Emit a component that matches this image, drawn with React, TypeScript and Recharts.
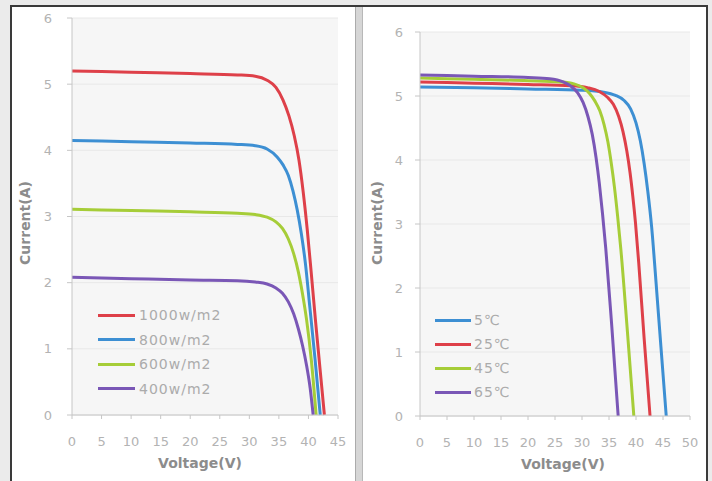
import { CartesianGrid, Label, Line, LineChart, XAxis, YAxis } from "recharts";

// tick labels
const currentTicks = [0, 1, 2, 3, 4, 5, 6];
const irrVoltTicks = [0, 5, 10, 15, 20, 25, 30, 35, 40, 45];
const tempVoltTicks = [0, 5, 10, 15, 20, 25, 30, 35, 40, 45, 50];

// irradiance curves (left)
const irrNames = ["1000w/m2", "800w/m2", "600w/m2", "400w/m2"];
const v1000 = [0, 10, 20, 28, 31, 33, 34.5, 35.7, 36.7, 37.6, 38.4, 39.1, 39.8, 40.5, 41.2, 42.0, 42.7];
const a1000 = [5.2, 5.18, 5.16, 5.14, 5.12, 5.06, 4.95, 4.76, 4.52, 4.22, 3.85, 3.38, 2.8, 2.12, 1.42, 0.66, 0];
const v800 = [0, 10, 20, 28, 31, 33, 34.7, 35.7, 36.6, 37.4, 38.1, 38.8, 39.5, 40.2, 41.1, 42.0];
const a800 = [4.15, 4.13, 4.11, 4.09, 4.07, 4.02, 3.9, 3.78, 3.62, 3.38, 3.1, 2.74, 2.28, 1.66, 0.86, 0];
const v600 = [0, 10, 20, 28, 31, 33, 34.5, 35.6, 36.6, 37.5, 38.3, 39.0, 39.7, 40.5, 41.3];
const a600 = [3.11, 3.09, 3.07, 3.05, 3.03, 2.99, 2.92, 2.82, 2.66, 2.44, 2.16, 1.83, 1.43, 0.82, 0];
const v400 = [0, 10, 20, 28, 31, 33, 34.5, 35.6, 36.6, 37.5, 38.3, 39.0, 39.7, 40.3, 40.8];
const a400 = [2.08, 2.06, 2.04, 2.03, 2.01, 1.98, 1.92, 1.84, 1.71, 1.53, 1.3, 1.05, 0.74, 0.4, 0];

// temperature curves (right)
const tempNames = ["5℃", "25℃", "45℃", "65℃"];
const v5 = [0, 10, 20, 30, 34, 36.2, 37.8, 39.0, 40.0, 40.8, 41.5, 42.2, 42.9, 43.7, 44.6, 45.6];
const a5 = [5.14, 5.13, 5.11, 5.09, 5.06, 5.01, 4.93, 4.8, 4.58, 4.3, 3.95, 3.5, 2.95, 2.1, 1.1, 0];
const v25 = [0, 10, 20, 28, 31, 33.2, 34.7, 35.8, 36.8, 37.6, 38.3, 38.9, 39.4, 39.9, 40.5, 41.5, 42.6];
const a25 = [5.22, 5.2, 5.18, 5.16, 5.13, 5.07, 4.98, 4.87, 4.68, 4.44, 4.14, 3.8, 3.44, 3.02, 2.4, 1.22, 0];
const v45 = [0, 10, 20, 26, 28.5, 30.2, 31.4, 32.4, 33.3, 34.1, 34.8, 35.4, 36.0, 36.6, 37.2, 38.4, 39.6];
const a45 = [5.28, 5.26, 5.24, 5.22, 5.19, 5.13, 5.04, 4.92, 4.77, 4.55, 4.28, 3.96, 3.58, 3.12, 2.6, 1.33, 0];
const v65 = [0, 10, 20, 24, 26.5, 28.0, 29.2, 30.2, 31.1, 31.9, 32.6, 33.2, 33.8, 34.4, 35.5, 36.7];
const a65 = [5.33, 5.31, 5.29, 5.27, 5.22, 5.15, 5.05, 4.9, 4.68, 4.4, 4.04, 3.64, 3.16, 2.62, 1.42, 0];

const RED = "#de4049";
const BLUE = "#3d8fd3";
const GREEN = "#a6cd38";
const PURPLE = "#7a57b6";

const pts = (v: number[], a: number[]) => v.map((x, i) => ({ v: x, a: a[i] }));

const irrSeries = [
  { name: irrNames[0], color: RED, data: pts(v1000, a1000) },
  { name: irrNames[1], color: BLUE, data: pts(v800, a800) },
  { name: irrNames[2], color: GREEN, data: pts(v600, a600) },
  { name: irrNames[3], color: PURPLE, data: pts(v400, a400) },
];
const tempSeries = [
  { name: tempNames[0], color: BLUE, data: pts(v5, a5) },
  { name: tempNames[1], color: RED, data: pts(v25, a25) },
  { name: tempNames[2], color: GREEN, data: pts(v45, a45) },
  { name: tempNames[3], color: PURPLE, data: pts(v65, a65) },
];

const tickStyle = { fill: "#b3b3b3", fontSize: 13, fontFamily: "DejaVu Sans" };
const titleStyle = { fill: "#8c8c8c", fontSize: 14, fontWeight: 700, fontFamily: "DejaVu Sans" } as const;

const XTitle = (dx: number) => (props: any) => {
  const vb = props.viewBox || {};
  return (
    <text x={vb.x + vb.width / 2 + dx} y={vb.y + 53} textAnchor="middle" {...titleStyle}>
      Voltage(V)
    </text>
  );
};

const YTitle = (cx: number, cy: number) => (props: any) => {
  const vb = props.viewBox || {};
  const x = vb.x + cx;
  return (
    <text x={x} y={cy} textAnchor="middle" dominantBaseline="central" transform={`rotate(-90, ${x}, ${cy})`} {...titleStyle}>
      Current(A)
    </text>
  );
};

function Panel(props: any) {
  const { series, xMax, xTicks, width, margin, yWidth, yTickMargin, xdx, ycx } = props;
  return (
    <LineChart width={width} height={481} margin={margin}>
      <CartesianGrid vertical={false} stroke="#e8e8e8" fill="#f6f6f6" fillOpacity={1} />
      <XAxis
        type="number"
        dataKey="v"
        domain={[0, xMax]}
        ticks={xTicks}
        interval={0}
        height={60}
        tick={tickStyle}
        tickSize={4}
        tickMargin={18}
        stroke="#c6c6c6"
        allowDuplicatedCategory={false}
      >
        <Label content={XTitle(xdx)} />
      </XAxis>
      <YAxis
        type="number"
        dataKey="a"
        domain={[0, 6]}
        ticks={currentTicks}
        interval={0}
        width={yWidth}
        tick={tickStyle}
        tickSize={5}
        tickMargin={yTickMargin}
        stroke="#c6c6c6"
      >
        <Label content={YTitle(ycx, 223)} />
      </YAxis>
      {series.map((s: any) => (
        <Line
          key={s.name}
          data={s.data}
          dataKey="a"
          name={s.name}
          type="monotone"
          stroke={s.color}
          strokeWidth={3}
          dot={false}
          activeDot={false}
          isAnimationActive={false}
        />
      ))}
    </LineChart>
  );
}

function LegendBox(props: any) {
  const { series, left, top, rowH, lineW, gap } = props;
  return (
    <div style={{ position: "absolute", left, top }}>
      {series.map((s: any) => (
        <div key={s.name} style={{ display: "flex", alignItems: "center", height: rowH }}>
          <div style={{ width: lineW, height: 3, background: s.color, marginRight: gap }} />
          <span style={{ fontFamily: "DejaVu Sans", fontSize: 14, letterSpacing: 1, color: "#ababab" }}>{s.name}</span>
        </div>
      ))}
    </div>
  );
}

export default function App() {
  return (
    <div style={{ position: "fixed", left: 0, top: 0, width: 712, height: 481, background: "#ebebeb", overflow: "hidden" }}>
      <div
        style={{
          position: "absolute",
          left: 10,
          top: 5,
          width: 694,
          height: 490,
          border: "2px solid #3a3a3a",
          background: "#ffffff",
        }}
      />
      <div
        style={{
          position: "absolute",
          left: 355,
          top: 7,
          width: 6,
          height: 481,
          background: "#d6d6d6",
          borderLeft: "1px solid #ababab",
          borderRight: "1px solid #b8b8b8",
        }}
      />
      <div style={{ position: "absolute", left: 0, top: 0 }}>
        <Panel
          series={irrSeries}
          xMax={45}
          xTicks={irrVoltTicks}
          width={350}
          margin={{ top: 18, right: 12, bottom: 6, left: 0 }}
          yWidth={72}
          yTickMargin={15}
          xdx={-5}
          ycx={25}
        />
      </div>
      <div style={{ position: "absolute", left: 352, top: 0 }}>
        <Panel
          series={tempSeries}
          xMax={50}
          xTicks={tempVoltTicks}
          width={360}
          margin={{ top: 32, right: 22, bottom: 5, left: 0 }}
          yWidth={68}
          yTickMargin={12}
          xdx={8}
          ycx={25}
        />
      </div>
      <LegendBox series={irrSeries} left={98} top={303} rowH={24.5} lineW={37} gap={4} />
      <LegendBox series={tempSeries} left={435} top={308} rowH={24} lineW={36} gap={3} />
    </div>
  );
}
